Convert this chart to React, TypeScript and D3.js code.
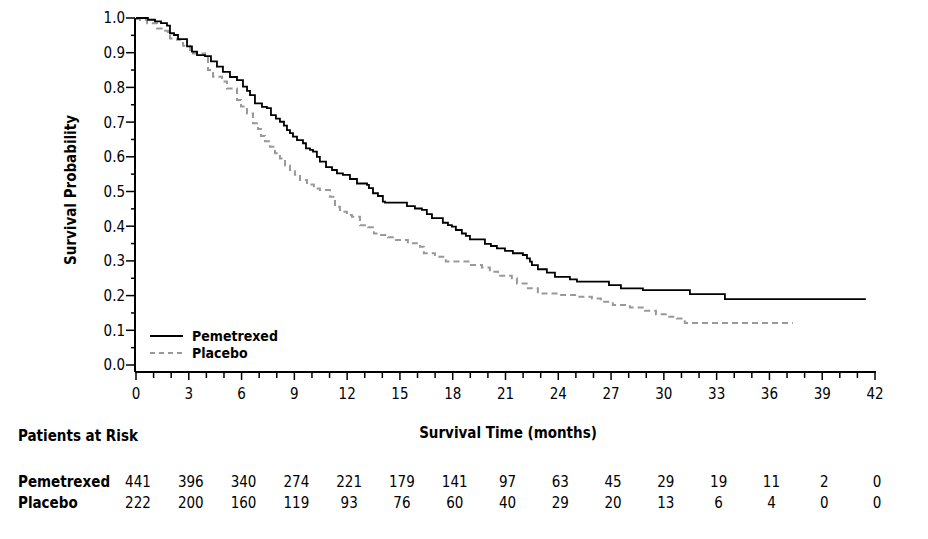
import * as d3 from "d3";

const pemTimes = [0, 0.68, 1.08, 1.42, 1.76, 1.93, 2.16, 2.39, 2.9, 3.18, 3.47, 3.92, 4.26, 4.6, 4.94, 5.34, 5.74, 6.08, 6.31, 6.48, 6.76, 7.16, 7.44, 7.67, 7.95, 8.18, 8.41, 8.58, 8.75, 8.92, 9.15, 9.49, 9.66, 9.89, 10.06, 10.28, 10.45, 10.8, 11.14, 11.42, 11.76, 12.16, 12.56, 13.13, 13.24, 13.47, 13.75, 14.03, 14.15, 15.4, 15.85, 16.25, 16.53, 16.82, 17.44, 17.73, 17.95, 18.18, 18.52, 18.75, 18.98, 19.83, 20.17, 20.51, 20.97, 21.42, 21.99, 22.22, 22.39, 22.5, 22.84, 23.35, 23.81, 24.66, 25.06, 26.88, 27.56, 28.81, 31.48, 33.47, 41.48];
const pemSurv = [1.0, 0.995, 0.99, 0.985, 0.978, 0.956, 0.951, 0.939, 0.918, 0.903, 0.893, 0.89, 0.875, 0.86, 0.845, 0.83, 0.821, 0.802, 0.79, 0.778, 0.754, 0.744, 0.74, 0.72, 0.71, 0.701, 0.69, 0.677, 0.668, 0.658, 0.648, 0.639, 0.624, 0.62, 0.615, 0.6, 0.586, 0.57, 0.562, 0.552, 0.548, 0.536, 0.523, 0.519, 0.51, 0.495, 0.487, 0.471, 0.468, 0.458, 0.451, 0.447, 0.435, 0.423, 0.41, 0.403, 0.399, 0.389, 0.379, 0.372, 0.362, 0.349, 0.343, 0.336, 0.329, 0.322, 0.317, 0.307, 0.298, 0.288, 0.276, 0.266, 0.254, 0.247, 0.24, 0.23, 0.221, 0.216, 0.204, 0.19, 0.19];

const plaTimes = [0, 0.23, 0.63, 1.19, 1.53, 1.82, 1.93, 2.33, 2.67, 3.07, 3.24, 3.92, 4.09, 4.38, 4.89, 5.17, 5.74, 5.97, 6.31, 6.65, 6.93, 7.1, 7.33, 7.61, 7.9, 8.18, 8.47, 8.75, 9.03, 9.32, 9.72, 10.11, 10.45, 11.02, 11.31, 11.59, 11.99, 12.27, 12.73, 13.18, 13.52, 13.75, 14.32, 14.77, 15.45, 16.14, 16.36, 16.99, 17.61, 18.98, 19.66, 20.11, 20.57, 21.36, 21.65, 22.27, 22.84, 24.09, 25.06, 25.91, 26.42, 27.1, 28.07, 28.92, 29.55, 30.23, 30.74, 31.19, 37.33];
const plaSurv = [0.997, 0.994, 0.985, 0.97, 0.963, 0.951, 0.941, 0.937, 0.92, 0.903, 0.898, 0.89, 0.85, 0.831, 0.817, 0.797, 0.764, 0.745, 0.725, 0.697, 0.68, 0.66, 0.645, 0.629, 0.61, 0.595, 0.575, 0.562, 0.548, 0.533, 0.52, 0.509, 0.504, 0.485, 0.456, 0.442, 0.432, 0.427, 0.403, 0.397, 0.379, 0.375, 0.368, 0.36, 0.351, 0.341, 0.322, 0.312, 0.298, 0.288, 0.281, 0.269, 0.257, 0.25, 0.235, 0.221, 0.206, 0.202, 0.197, 0.192, 0.182, 0.173, 0.166, 0.156, 0.146, 0.139, 0.134, 0.121, 0.121];

const riskMonths = [0, 3, 6, 9, 12, 15, 18, 21, 24, 27, 30, 33, 36, 39, 42];
const pemAtRisk = [441, 396, 340, 274, 221, 179, 141, 97, 63, 45, 29, 19, 11, 2, 0];
const plaAtRisk = [222, 200, 160, 119, 93, 76, 60, 40, 29, 20, 13, 6, 4, 0, 0];

const yTicks = [0, 0.1, 0.2, 0.3, 0.4, 0.5, 0.6, 0.7, 0.8, 0.9, 1.0];

const FONT = "'Liberation Sans Narrow', 'DejaVu Sans Condensed', 'Arial Narrow', sans-serif";

export default function App() {
  const width = 928;
  const height = 539;
  const x = d3.scaleLinear().domain([0, 42]).range([136, 875]);
  const y = d3.scaleLinear().domain([0, 1]).range([365, 18]);
  const axisY = 372;
  const axisX = 135;

  const line = d3
    .line<[number, number]>()
    .x((d) => x(d[0]))
    .y((d) => y(d[1]))
    .curve(d3.curveStepAfter);

  const pem = pemTimes.map((t, i) => [t, pemSurv[i]] as [number, number]);
  const pla = plaTimes.map((t, i) => [t, plaSurv[i]] as [number, number]);

  const minorX = d3.range(0, 43);
  const minorY = d3.range(0, 21).map((i) => i * 0.05);

  return (
    <svg
      width={width}
      height={height}
      style={{ position: "absolute", left: 0, top: 0, background: "#fff" }}
      fontFamily={FONT}
    >
      {/* axes */}
      <line x1={axisX} x2={axisX} y1={y(1)} y2={axisY} stroke="#000" strokeWidth={2} />
      <line x1={axisX} x2={x(42) + 1} y1={axisY} y2={axisY} stroke="#000" strokeWidth={2} />
      {minorY.map((v, i) => (
        <line
          key={"yt" + i}
          x1={axisX - (i % 2 === 0 ? 9 : 4)}
          x2={axisX}
          y1={y(v)}
          y2={y(v)}
          stroke="#000"
          strokeWidth={1.5}
        />
      ))}
      {yTicks.map((v) => (
        <text key={"yl" + v} x={125} y={y(v)} dy="0.36em" textAnchor="end" fontSize={15}>
          {v.toFixed(1)}
        </text>
      ))}
      {minorX.map((m) => (
        <line
          key={"xt" + m}
          x1={x(m)}
          x2={x(m)}
          y1={axisY}
          y2={axisY + (m % 3 === 0 ? 8 : 6)}
          stroke="#000"
          strokeWidth={1.5}
        />
      ))}
      {riskMonths.map((m) => (
        <text key={"xl" + m} x={x(m)} y={399} textAnchor="middle" fontSize={15}>
          {m}
        </text>
      ))}

      <text
        transform={`translate(76,190) rotate(-90)`}
        textAnchor="middle"
        fontSize={15}
        fontWeight="bold"
      >
        Survival Probability
      </text>
      <text x={508} y={438} textAnchor="middle" fontSize={15} fontWeight="bold">
        Survival Time (months)
      </text>

      {/* curves */}
      <path d={line(pla) ?? ""} fill="none" stroke="#999" strokeWidth={2} strokeDasharray="6,4" />
      <path d={line(pem) ?? ""} fill="none" stroke="#000" strokeWidth={1.8} />

      {/* legend */}
      <line x1={150} x2={183} y1={336} y2={336} stroke="#000" strokeWidth={2} />
      <text x={192} y={336} dy="0.36em" fontSize={14} fontWeight="bold">
        Pemetrexed
      </text>
      <line x1={150} x2={183} y1={353} y2={353} stroke="#999" strokeWidth={2} strokeDasharray="5,4" />
      <text x={192} y={353} dy="0.36em" fontSize={14} fontWeight="bold">
        Placebo
      </text>

      {/* at-risk table */}
      <text x={18} y={441} fontSize={15} fontWeight="bold">
        Patients at Risk
      </text>
      <text x={18} y={487} fontSize={15} fontWeight="bold">
        Pemetrexed
      </text>
      <text x={18} y={508} fontSize={15} fontWeight="bold">
        Placebo
      </text>
      {riskMonths.map((m, i) => (
        <text key={"pr" + m} x={x(m) + 2} y={487} textAnchor="middle" fontSize={15}>
          {pemAtRisk[i]}
        </text>
      ))}
      {riskMonths.map((m, i) => (
        <text key={"lr" + m} x={x(m) + 2} y={508} textAnchor="middle" fontSize={15}>
          {plaAtRisk[i]}
        </text>
      ))}
    </svg>
  );
}
